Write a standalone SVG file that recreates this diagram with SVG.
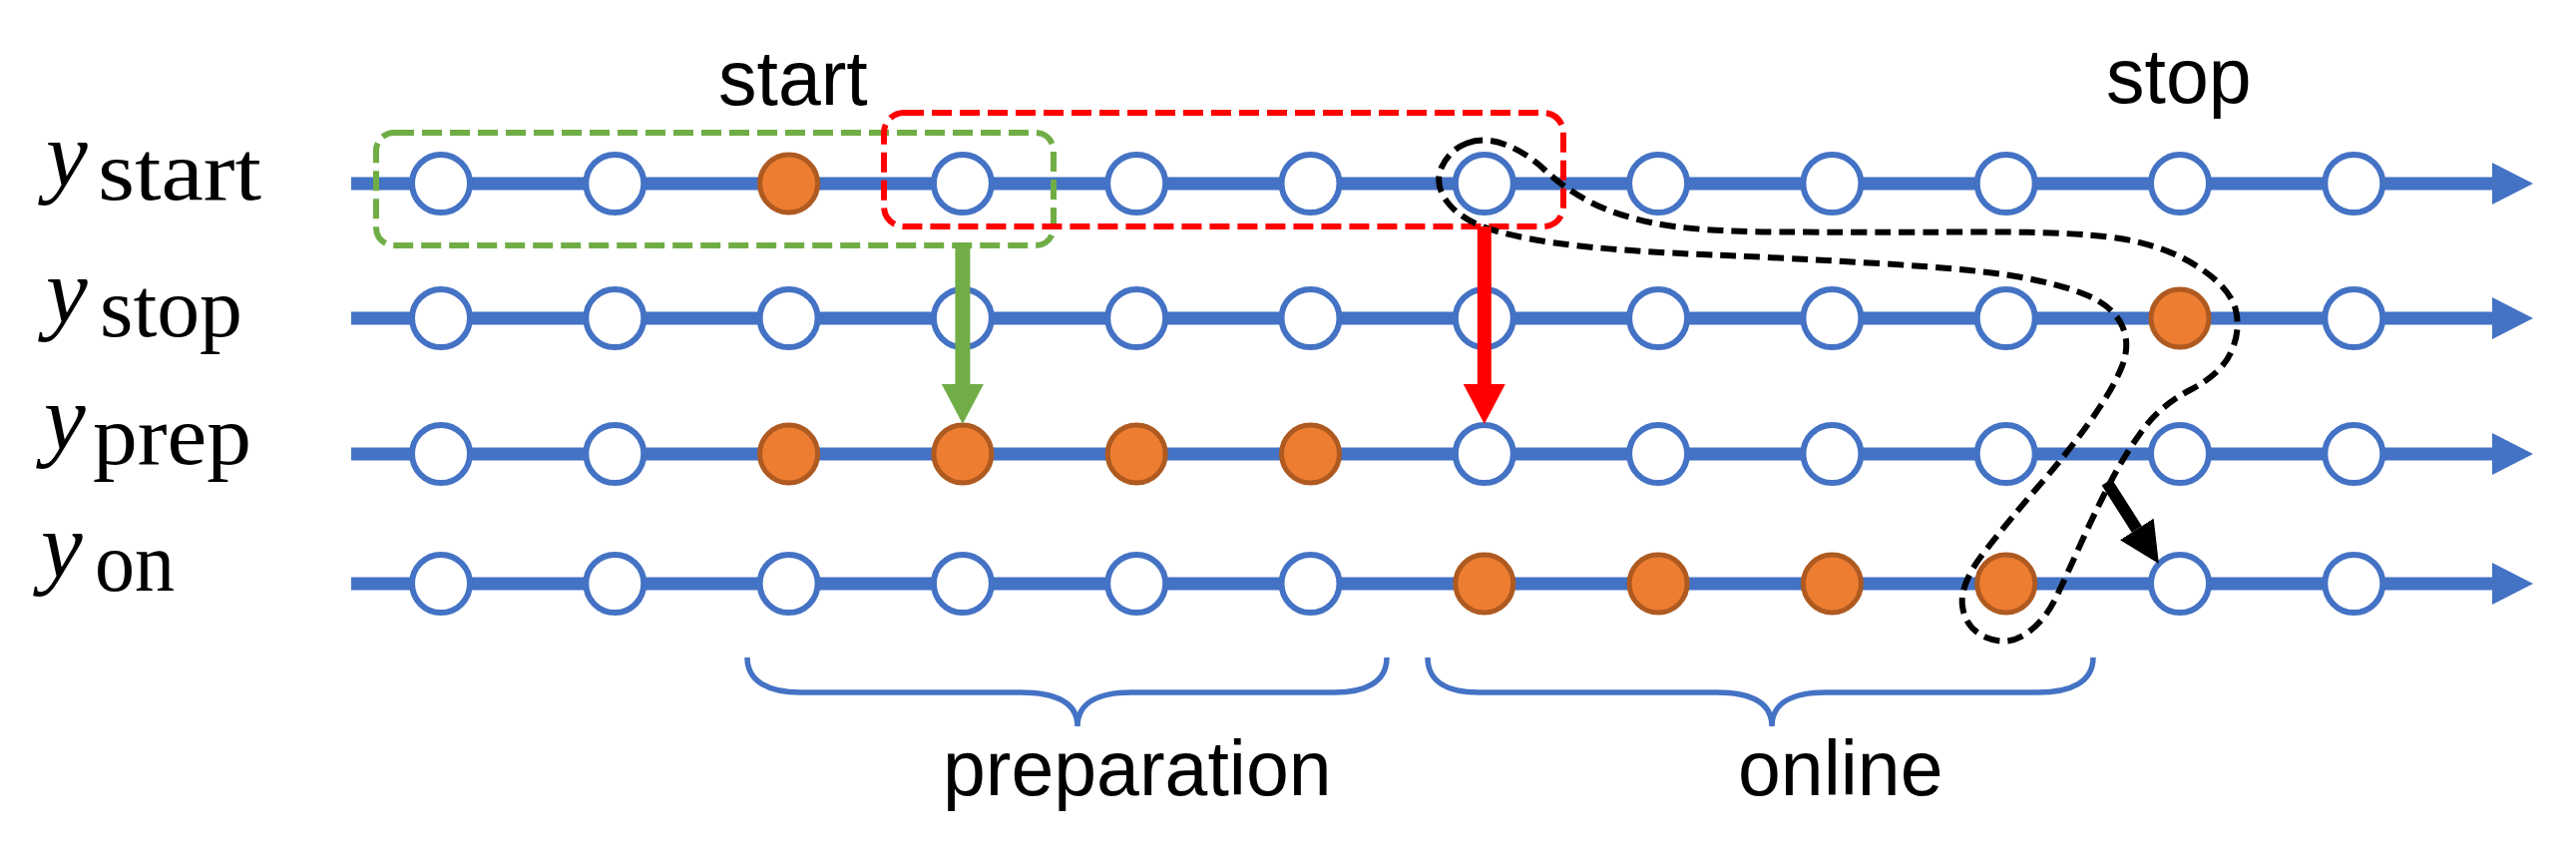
<svg xmlns="http://www.w3.org/2000/svg" width="2582" height="869" viewBox="0 0 2582 869">
<defs>
<style>
.tl{stroke:#4472C4;stroke-width:13;fill:none}
.c{fill:#FFFFFF;stroke:#4472C4;stroke-width:6}
.o{fill:#ED7D31;stroke:#AE5A21;stroke-width:5}
.lbl{font-family:"Liberation Sans",Arial,sans-serif;font-size:77px;fill:#000}
.mi{font-family:"Liberation Serif","Times New Roman",serif;font-style:italic;font-size:94px;fill:#000}
.sub{font-family:"Liberation Serif","Times New Roman",serif;font-size:85px;fill:#000}
.brace{fill:none;stroke:#4472C4;stroke-width:5.5}
.gbox{fill:none;stroke:#70AD47;stroke-width:6;stroke-dasharray:20 8}
.rbox{fill:none;stroke:#FF0000;stroke-width:6;stroke-dasharray:20 8}
.lasso{fill:none;stroke:#000;stroke-width:6;stroke-dasharray:16 8}
</style>
<marker id="ahB" viewBox="0 0 41 42" refX="0" refY="21" markerWidth="41" markerHeight="42" markerUnits="userSpaceOnUse" orient="auto"><path d="M0,0 L41,21 L0,42 Z" fill="#4472C4"/></marker>
<marker id="ahG" viewBox="0 0 40 42" refX="0" refY="21" markerWidth="40" markerHeight="42" markerUnits="userSpaceOnUse" orient="auto"><path d="M0,0 L40,21 L0,42 Z" fill="#70AD47"/></marker>
<marker id="ahR" viewBox="0 0 40 42" refX="0" refY="21" markerWidth="40" markerHeight="42" markerUnits="userSpaceOnUse" orient="auto"><path d="M0,0 L40,21 L0,42 Z" fill="#FF0000"/></marker>
<marker id="ahK" viewBox="0 0 41 40" refX="0" refY="20" markerWidth="41" markerHeight="40" markerUnits="userSpaceOnUse" orient="auto"><path d="M0,0 L41,20 L0,40 Z" fill="#000"/></marker>
</defs>
<rect width="2582" height="869" fill="#FFFFFF"/>

<g id="timelines">
<line class="tl" x1="352" y1="184" x2="2498" y2="184" marker-end="url(#ahB)"/>
<line class="tl" x1="352" y1="319" x2="2498" y2="319" marker-end="url(#ahB)"/>
<line class="tl" x1="352" y1="455" x2="2498" y2="455" marker-end="url(#ahB)"/>
<line class="tl" x1="352" y1="585" x2="2498" y2="585" marker-end="url(#ahB)"/>
</g>

<g id="row-labels">
<g id="label-ystart"><text class="mi" x="46" y="186">y</text><text class="sub" x="98" y="200" textLength="164" lengthAdjust="spacingAndGlyphs">start</text></g>
<g id="label-ystop"><text class="mi" x="46" y="323">y</text><text class="sub" x="100" y="337" textLength="143" lengthAdjust="spacingAndGlyphs">stop</text></g>
<g id="label-yprep"><text class="mi" x="44" y="450">y</text><text class="sub" x="93" y="465" textLength="159" lengthAdjust="spacingAndGlyphs">prep</text></g>
<g id="label-yon"><text class="mi" x="41" y="578">y</text><text class="sub" x="95" y="592" textLength="80" lengthAdjust="spacingAndGlyphs">on</text></g>
</g>

<g id="row-start">
<g id="s0"><circle class="c" cx="442" cy="184" r="29"/></g>
<g id="s1"><circle class="c" cx="616.3" cy="184" r="29"/></g>
<g id="s2"><circle class="o" cx="790.6" cy="184" r="29"/></g>
<g id="s3"><circle class="c" cx="964.9" cy="184" r="29"/></g>
<g id="s4"><circle class="c" cx="1139.2" cy="184" r="29"/></g>
<g id="s5"><circle class="c" cx="1313.5" cy="184" r="29"/></g>
<g id="s6"><circle class="c" cx="1487.8" cy="184" r="29"/></g>
<g id="s7"><circle class="c" cx="1662.1" cy="184" r="29"/></g>
<g id="s8"><circle class="c" cx="1836.4" cy="184" r="29"/></g>
<g id="s9"><circle class="c" cx="2010.7" cy="184" r="29"/></g>
<g id="s10"><circle class="c" cx="2185" cy="184" r="29"/></g>
<g id="s11"><circle class="c" cx="2359.3" cy="184" r="29"/></g>
</g>
<g id="row-stop">
<g id="t0"><circle class="c" cx="442" cy="319" r="29"/></g>
<g id="t1"><circle class="c" cx="616.3" cy="319" r="29"/></g>
<g id="t2"><circle class="c" cx="790.6" cy="319" r="29"/></g>
<g id="t3"><circle class="c" cx="964.9" cy="319" r="29"/></g>
<g id="t4"><circle class="c" cx="1139.2" cy="319" r="29"/></g>
<g id="t5"><circle class="c" cx="1313.5" cy="319" r="29"/></g>
<g id="t6"><circle class="c" cx="1487.8" cy="319" r="29"/></g>
<g id="t7"><circle class="c" cx="1662.1" cy="319" r="29"/></g>
<g id="t8"><circle class="c" cx="1836.4" cy="319" r="29"/></g>
<g id="t9"><circle class="c" cx="2010.7" cy="319" r="29"/></g>
<g id="t10"><circle class="o" cx="2185" cy="319" r="29"/></g>
<g id="t11"><circle class="c" cx="2359.3" cy="319" r="29"/></g>
</g>
<g id="row-prep">
<g id="p0"><circle class="c" cx="442" cy="455" r="29"/></g>
<g id="p1"><circle class="c" cx="616.3" cy="455" r="29"/></g>
<g id="p2"><circle class="o" cx="790.6" cy="455" r="29"/></g>
<g id="p3"><circle class="o" cx="964.9" cy="455" r="29"/></g>
<g id="p4"><circle class="o" cx="1139.2" cy="455" r="29"/></g>
<g id="p5"><circle class="o" cx="1313.5" cy="455" r="29"/></g>
<g id="p6"><circle class="c" cx="1487.8" cy="455" r="29"/></g>
<g id="p7"><circle class="c" cx="1662.1" cy="455" r="29"/></g>
<g id="p8"><circle class="c" cx="1836.4" cy="455" r="29"/></g>
<g id="p9"><circle class="c" cx="2010.7" cy="455" r="29"/></g>
<g id="p10"><circle class="c" cx="2185" cy="455" r="29"/></g>
<g id="p11"><circle class="c" cx="2359.3" cy="455" r="29"/></g>
</g>
<g id="row-on">
<g id="q0"><circle class="c" cx="442" cy="585" r="29"/></g>
<g id="q1"><circle class="c" cx="616.3" cy="585" r="29"/></g>
<g id="q2"><circle class="c" cx="790.6" cy="585" r="29"/></g>
<g id="q3"><circle class="c" cx="964.9" cy="585" r="29"/></g>
<g id="q4"><circle class="c" cx="1139.2" cy="585" r="29"/></g>
<g id="q5"><circle class="c" cx="1313.5" cy="585" r="29"/></g>
<g id="q6"><circle class="o" cx="1487.8" cy="585" r="29"/></g>
<g id="q7"><circle class="o" cx="1662.1" cy="585" r="29"/></g>
<g id="q8"><circle class="o" cx="1836.4" cy="585" r="29"/></g>
<g id="q9"><circle class="o" cx="2010.7" cy="585" r="29"/></g>
<g id="q10"><circle class="c" cx="2185" cy="585" r="29"/></g>
<g id="q11"><circle class="c" cx="2359.3" cy="585" r="29"/></g>
</g>

<g id="windows">
<g id="green-window"><rect class="gbox" x="377" y="133" width="679" height="113" rx="18" ry="18"/></g>
<g id="red-window"><rect class="rbox" x="886" y="113" width="681" height="114" rx="20" ry="20"/></g>
<g id="lasso"><path class="lasso" d="M1470.5,143.5 Q1488,137 1509,145 Q1530,153 1548.5,170.5 Q1567,188 1592,201.5 Q1617,215 1657,223.5 Q1697,232 1783,232.5 Q1869,233 1981.5,232.5 Q2094,232 2136,241 Q2178,250 2207,270 Q2236,290 2241,311 Q2246,332 2236,353.5 Q2226,375 2196,390.5 Q2166,406 2148,430.5 Q2130,455 2115,484 Q2100,513 2086.5,543 Q2073,573 2061.5,597.5 Q2050,622 2031,635 Q2012,648 1991,639 Q1970,630 1967,607.5 Q1964,585 1989.5,552.5 Q2015,520 2044,486.5 Q2073,453 2094.5,423 Q2116,393 2126,369.5 Q2136,346 2127,326.5 Q2118,307 2092,296 Q2066,285 2023.5,277.5 Q1981,270 1890.5,264.5 Q1800,259 1716.5,255.5 Q1633,252 1583,246.5 Q1533,241 1499.5,231.5 Q1466,222 1451.5,203.5 Q1437,185 1445,167.5 Q1453,150 1470.5,143.5 Z"/></g>
</g>

<g id="connectors">
<line x1="964.9" y1="246" x2="964.9" y2="385" stroke="#70AD47" stroke-width="15" marker-end="url(#ahG)"/>
<line x1="1487.8" y1="227" x2="1487.8" y2="385" stroke="#FF0000" stroke-width="14" marker-end="url(#ahR)"/>
<line x1="2111.7" y1="483.3" x2="2141.8" y2="530.4" stroke="#000" stroke-width="12" marker-end="url(#ahK)"/>
</g>

<g id="braces">
<path class="brace" d="M749,659 C749,684 772,694 802,694 L1022,694 C1060,694 1080,705 1080,728 C1080,705 1100,694 1134,694 L1338,694 C1368,694 1390,684 1390,659"/>
<path class="brace" d="M1431,659 C1431,684 1452,694 1482,694 L1720,694 C1756,694 1776,705 1776,728 C1776,705 1796,694 1830,694 L2043,694 C2075,694 2098,684 2098,659"/>
</g>

<g id="texts">
<text class="lbl" x="720" y="105">start</text>
<text class="lbl" x="2111" y="103">stop</text>
<text class="lbl" x="945" y="797">preparation</text>
<text class="lbl" x="1742" y="797">online</text>
</g>
</svg>
